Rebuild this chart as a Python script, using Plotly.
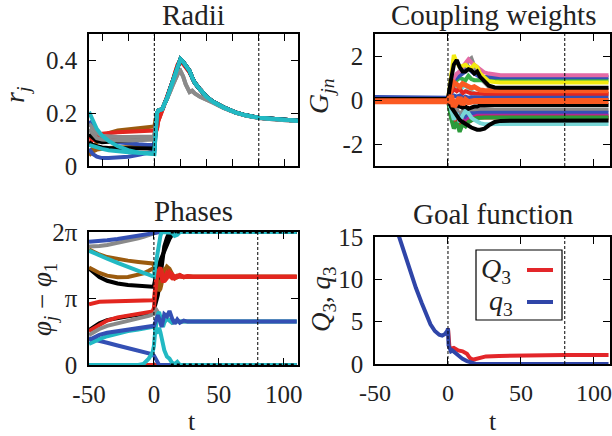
import plotly.graph_objects as go

W, H = 612, 436
FONT = "Liberation Serif"
TWO_PI = 6.2832
PI = 3.1416

# ---------------- Radii ----------------
r_t_pre = [-50, -47, -44, -40, -35, -28, -20, -12, -5, 0]
r_t_post = [2, 3, 6, 8, 10, 12, 14, 16, 18, 20, 22, 24, 27, 29, 31, 35, 40, 45, 53, 62, 70, 80, 95, 110]
r_post_main = [0.2, 0.21, 0.215, 0.235, 0.26, 0.29, 0.32, 0.355, 0.385, 0.405, 0.395, 0.38, 0.36, 0.335, 0.315, 0.29, 0.262, 0.243, 0.222, 0.203, 0.192, 0.183, 0.176, 0.171]
r_post_gray = [0.2, 0.21, 0.215, 0.235, 0.255, 0.28, 0.305, 0.33, 0.35, 0.36, 0.34, 0.31, 0.28, 0.285, 0.275, 0.262, 0.252, 0.24, 0.22, 0.202, 0.191, 0.182, 0.175, 0.17]
r_post_red = [0.14, 0.17, 0.21, 0.235, 0.26, 0.29, 0.32, 0.355, 0.385, 0.4, 0.39, 0.375, 0.355, 0.335, 0.315, 0.29, 0.262, 0.243, 0.222, 0.203, 0.192, 0.183, 0.176, 0.171]

r_brown_a = [0.045, 0.065, 0.09, 0.11, 0.125, 0.135, 0.14, 0.145, 0.148, 0.15]
r_brown_b = [0.04, 0.055, 0.062, 0.066, 0.068, 0.07, 0.072, 0.073, 0.074, 0.075]
r_red_a = [0.085, 0.1, 0.115, 0.122, 0.125, 0.128, 0.13, 0.132, 0.133, 0.134]
r_red_b = [0.11, 0.1, 0.095, 0.095, 0.1, 0.105, 0.108, 0.11, 0.11, 0.11]
r_blue_a = [0.17, 0.15, 0.13, 0.115, 0.1, 0.09, 0.085, 0.082, 0.08, 0.08]
r_blue_b = [0.065, 0.045, 0.035, 0.03, 0.03, 0.032, 0.035, 0.042, 0.05, 0.055]
r_black_a = [0.12, 0.105, 0.095, 0.09, 0.092, 0.095, 0.098, 0.1, 0.102, 0.105]
r_black_b = [0.09, 0.08, 0.075, 0.07, 0.068, 0.067, 0.066, 0.066, 0.066, 0.066]
r_gray_a = [0.16, 0.14, 0.125, 0.115, 0.112, 0.11, 0.11, 0.11, 0.11, 0.112]
r_gray_b = [0.14, 0.12, 0.105, 0.1, 0.098, 0.097, 0.097, 0.098, 0.1, 0.1]
r_cyan_a = [0.205, 0.17, 0.14, 0.115, 0.095, 0.075, 0.06, 0.05, 0.045, 0.045]
r_cyan_b = [0.08, 0.075, 0.07, 0.065, 0.06, 0.055, 0.052, 0.05, 0.048, 0.047]

# ---------------- Coupling weights ----------------
g_t = [-50, 0, 2, 4, 6, 8, 10, 12, 14, 16, 18, 20, 22, 25, 28, 32, 36, 110]
g_pink = [0, 0, 0.6, 1.0, 1.2, 1.3, 1.5, 1.7, 1.85, 1.7, 1.6, 1.5, 1.35, 1.25, 1.2, 1.15, 1.13, 1.13]
g_blue_a = [0, 0, 0.5, 0.9, 1.0, 1.1, 1.2, 1.3, 1.5, 1.3, 1.2, 1.1, 1.05, 1.05, 1.03, 1.03, 1.03, 1.03]
g_green_a = [0, 0, 0.3, 0.7, 0.9, 1.0, 0.95, 0.9, 1.1, 0.95, 0.9, 0.92, 0.9, 0.9, 0.9, 0.9, 0.9, 0.9]
g_yellow = [0, 0, 1.0, 2.05, 1.7, 1.5, 1.55, 1.6, 1.5, 1.45, 1.6, 1.5, 1.2, 1.0, 0.85, 0.82, 0.8, 0.8]
g_gray_a = [0, 0, 0.4, 0.8, 1.1, 1.3, 1.4, 1.6, 1.8, 1.9, 1.5, 1.2, 1.0, 0.8, 0.6, 0.45, 0.35, 0.3]
g_black_a = [0.05, 0.05, 0.9, 1.6, 1.82, 1.5, 1.3, 1.3, 1.4, 1.35, 1.2, 1.3, 1.05, 0.85, 0.65, 0.57, 0.56, 0.56]
g_orange_a = [0, 0, 0.5, 0.8, 0.7, 0.6, 0.75, 0.7, 0.6, 0.55, 0.6, 0.5, 0.45, 0.43, 0.42, 0.42, 0.42, 0.42]
g_red_a = [0, 0, 0.3, 0.5, 0.4, 0.5, 0.3, 0.4, 0.35, 0.3, 0.3, 0.28, 0.27, 0.27, 0.27, 0.27, 0.27, 0.27]
g_cyan_a = [0, 0, 0.7, 0.5, 0.75, 0.4, 0.6, 0.7, 0.5, 0.4, 0.3, 0.2, 0.1, 0.05, 0.0, 0.0, 0.0, 0.0]
g_blue_b = [0.14, 0.14, 0.1, 0.2, 0.15, 0.2, 0.1, 0.15, 0.1, 0.12, 0.1, 0.1, 0.1, 0.1, 0.1, 0.1, 0.1, 0.1]
g_black_b = [0.05, 0.05, -0.2, -0.3, -0.25, -0.3, -0.35, -0.3, -0.4, -0.35, -0.3, -0.3, -0.25, -0.25, -0.23, -0.23, -0.23, -0.23]
g_gray_b = [0, 0, -0.3, -0.6, -0.4, -0.7, -0.5, -0.6, -0.5, -0.45, -0.45, -0.43, -0.43, -0.43, -0.43, -0.43, -0.43, -0.43]
g_blue_c = [0, 0, -0.5, -0.8, -0.6, -0.9, -0.7, -0.8, -0.7, -0.6, -0.6, -0.58, -0.58, -0.58, -0.58, -0.58, -0.58, -0.58]
g_purple = [0, 0, -0.6, -1.0, -0.8, -1.1, -0.9, -1.0, -0.85, -0.8, -0.75, -0.72, -0.72, -0.72, -0.72, -0.72, -0.72, -0.72]
g_red_b = [0, 0, -0.7, -1.2, -0.9, -1.25, -1.0, -1.1, -1.0, -0.9, -0.85, -0.8, -0.8, -0.8, -0.8, -0.8, -0.8, -0.8]
g_green_b = [0, 0, -0.8, -1.3, -1.0, -1.45, -1.1, -1.2, -1.0, -0.9, -0.85, -0.82, -0.8, -0.8, -0.8, -0.8, -0.8, -0.8]
g_cyan_b = [0, 0, -0.4, -0.9, -0.6, -1.0, -0.7, -0.5, -0.6, -0.8, -0.9, -1.0, -1.05, -1.1, -1.09, -1.09, -1.09, -1.09]
g_black_c = [0.05, 0.05, -0.3, -0.5, -0.7, -0.9, -1.0, -1.1, -1.15, -1.25, -1.3, -1.35, -1.35, -1.3, -1.15, -1.0, -0.95, -0.93]
g_orange_b = [-0.06, -0.06, 0.2, -0.3, -0.1, 0.1, -0.2, 0.0, -0.1, -0.05, -0.05, -0.05, -0.05, -0.05, -0.05, -0.05, -0.05, -0.05]

# ---------------- Phases ----------------
p_t = [-50, -46, -42, -36, -28, -20, -12, -8, -4, -1,
       0, 1, 2, 3, 4, 5, 6, 7, 8, 10, 12, 14, 16, 18, 20, 23, 26, 30, 40, 110]
ph_red_zero = [0] * 30
ph_blue_low = [1.26, 1.21, 1.15, 1.05, 0.92, 0.8, 0.68, 0.62, 0.55, 0.5,
               0.45, 0.35, 0.2, 0.1, 0, 0, 0, 0, 0, 0, 0, 0, 0, 0, 0, 0, 0, 0, 0, 0]
ph_gray_top = [5.6, 5.6, 5.62, 5.67, 5.76, 5.86, 5.98, 6.05, 6.12, 6.17,
               6.2, 6.24, 6.28, 6.28, 6.28, 6.28, 6.28, 6.28, 6.28, 6.28, 6.28, 6.28, 6.28, 6.28, 6.28, 6.28, 6.28, 6.28, 6.28, 6.28]
ph_blue_top = [5.82, 5.83, 5.85, 5.89, 5.95, 6.03, 6.12, 6.17, 6.22, 6.25,
               6.27, 6.28, 6.28, 6.28, 6.28, 6.28, 6.28, 6.28, 6.28, 6.28, 6.28, 6.28, 6.28, 6.28, 6.28, 6.28, 6.28, 6.28, 6.28, 6.28]
ph_black_low = [1.65, 1.82, 1.97, 2.12, 2.22, 2.3, 2.37, 2.4, 2.43, 2.45,
                2.6, 2.8, 3.0, 3.3, 3.7, 4.2, 4.7, 5.2, 5.6, 6.0, 6.28, 6.28, 6.28, 6.28, 6.28, 6.28, 6.28, 6.28, 6.28, 6.28]
ph_black_top = [4.57, 4.33, 4.15, 3.98, 3.85, 3.78, 3.74, 3.72, 3.71, 3.7,
                3.75, 4.1, 4.4, 4.6, 4.8, 4.95, 5.1, 5.25, 5.4, 5.7, 5.95, 6.15, 6.28, 6.28, 6.28, 6.28, 6.28, 6.28, 6.28, 6.28]
ph_brown_low = [4.6, 4.45, 4.35, 4.22, 4.15, 4.16, 4.25, 4.33, 4.45, 4.55,
                4.5, 4.2, 3.9, 3.65, 3.5, 3.6, 3.85, 4.15, 4.4, 4.65, 4.55, 4.3, 4.1, 4.15, 4.25, 4.15, 4.18, 4.17, 4.17, 4.17]
ph_brown_top = [5.45, 5.33, 5.22, 5.1, 5.0, 4.93, 4.87, 4.85, 4.82, 4.8,
                4.7, 4.4, 4.1, 3.85, 3.7, 3.75, 3.95, 4.25, 4.5, 4.6, 4.35, 4.15, 4.1, 4.22, 4.2, 4.15, 4.17, 4.17, 4.17, 4.17]
ph_red_low = [1.6, 1.73, 1.9, 2.1, 2.25, 2.34, 2.42, 2.46, 2.5, 2.53,
              2.7, 3.5, 4.0, 4.3, 4.5, 4.3, 4.0, 3.9, 4.1, 4.35, 4.2, 4.1, 4.2, 4.15, 4.18, 4.17, 4.17, 4.17, 4.17, 4.17]
ph_red_up = [2.87, 2.95, 2.99, 3.0, 3.01, 3.02, 3.03, 3.04, 3.05, 3.06,
             3.1, 3.8, 4.2, 4.4, 4.55, 4.6, 4.4, 4.1, 3.95, 4.1, 4.4, 4.3, 4.1, 4.2, 4.25, 4.15, 4.2, 4.17, 4.17, 4.17]
ph_gray_low = [1.42, 1.56, 1.7, 1.85, 1.98, 2.08, 2.2, 2.26, 2.32, 2.37,
               2.4, 2.5, 2.6, 2.5, 2.3, 2.1, 2.0, 2.1, 2.25, 2.2, 2.1, 2.0, 2.08, 2.05, 2.05, 2.05, 2.05, 2.05, 2.05, 2.05]
ph_cyan_rise = [0, 0, 0, 0, 0, 0, 0, 0.05, 0.3, 0.6,
                0.9, 1.6, 2.1, 2.4, 2.5, 2.2, 1.9, 1.8, 2.0, 2.2, 2.1, 2.0, 2.05, 2.05, 2.05, 2.05, 2.05, 2.05, 2.05, 2.05]
ph_cyan_low = [1.0, 1.12, 1.22, 1.36, 1.5, 1.6, 1.68, 1.72, 1.76, 1.8,
               1.85, 1.7, 1.5, 1.6, 1.75, 1.55, 1.3, 1.0, 0.7, 0.4, 0.3, 0.1, 0.05, 0.15, 0, 0, 0, 0, 0, 0]
ph_blue_mid = [1.18, 1.32, 1.42, 1.52, 1.6, 1.66, 1.72, 1.76, 1.8, 1.83,
               1.85, 2.0, 2.2, 2.35, 2.2, 1.9, 1.8, 2.1, 2.4, 2.3, 2.55, 2.2, 1.95, 2.15, 2.0, 2.1, 2.05, 2.05, 2.05, 2.05]
ph_cyan_top = [5.4, 5.28, 5.18, 5.02, 4.83, 4.62, 4.45, 4.35, 4.27, 4.2,
               4.17, 4.6, 5.0, 5.4, 5.8, 6.1, 6.28, 6.28, 6.28, 6.28, 6.28, 6.25, 6.1, 6.15, 6.28, 6.28, 6.28, 6.28, 6.28, 6.28]
ph_dots_t = [13, 110]
ph_dots_top = [6.28, 6.28]
ph_dots_bottom = [0, 0]

# ---------------- Goal function ----------------
q_t = [-34, -30, -26, -22, -18, -15, -12, -9, -6, -4, -2, -0.5, 0, 0.4, 1, 2, 3, 5, 7, 10, 13, 15, 17, 19, 25, 50, 80, 110]
q_vals = [15.3, 13.2, 11.0, 9.0, 7.2, 5.9, 4.7, 3.9, 3.45, 3.35, 3.55, 3.9, 4.2, 2.2, 1.8, 1.5, 1.6, 1.3, 1.0, 0.6, 0.35, 0.2, 0.05, 0.0, 0.0, 0.0, 0.0, 0.0]
Q_t = [0, 0.4, 1, 2, 4, 7, 10, 13, 15, 17, 19, 22, 26, 35, 50, 80, 110]
Q_vals = [4.2, 2.4, 2.0, 1.8, 1.9, 1.6, 1.5, 1.2, 0.7, 0.5, 0.6, 0.8, 0.9, 0.95, 1.0, 1.05, 1.05]

markers_t = [0, 80]

BROWN = "#9b5b0f"
RED = "#e3261f"
GRAY = "#8a8a8a"
BLACK = "#000000"
BLUE = "#3450b4"
CYAN = "#22b9c3"

fig = go.Figure()


def line(x, y, color, width, ax, dash=None):
    fig.add_trace(go.Scatter(x=x, y=y, mode="lines", xaxis="x" + ax, yaxis="y" + ax,
                             line=dict(color=color, width=width, dash=dash),
                             showlegend=False, hoverinfo="skip"))


radii_curves = [
    (r_brown_a, r_post_main, BROWN), (r_brown_b, r_post_main, BROWN),
    (r_red_a, r_post_red, RED), (r_red_b, r_post_red, RED),
    (r_blue_a, r_post_main, BLUE), (r_blue_b, r_post_main, BLUE),
    (r_black_a, r_post_main, BLACK), (r_black_b, r_post_main, BLACK),
    (r_gray_a, r_post_gray, GRAY), (r_gray_b, r_post_gray, GRAY),
    (r_cyan_a, r_post_main, CYAN), (r_cyan_b, r_post_main, CYAN),
]
for pre, post, c in radii_curves:
    line(r_t_pre + r_t_post, pre + post, c, 4, "")

coupling = [
    (g_cyan_a, "#6fd3d3", 4), (g_gray_a, GRAY, 4), (g_green_a, "#37b04a", 4),
    (g_blue_a, BLUE, 4), (g_pink, "#e46aa6", 4), (g_yellow, "#f2ea10", 4),
    (g_red_a, RED, 4), (g_orange_a, "#fb5a22", 5), (g_blue_b, BLUE, 4),
    (g_gray_b, GRAY, 4), (g_blue_c, BLUE, 4), (g_purple, "#b3249a", 4),
    (g_red_b, RED, 4), (g_green_b, "#2c9a3a", 4), (g_cyan_b, "#78d6d6", 4),
    (g_black_b, BLACK, 4), (g_black_c, BLACK, 4), (g_black_a, BLACK, 4),
    (g_orange_b, "#fb5a22", 6),
]
for vals, c, w in coupling:
    line(g_t, vals, c, w, "2")

phases = [
    (ph_red_zero, RED), (ph_blue_low, BLUE), (ph_gray_top, GRAY), (ph_blue_top, BLUE),
    (ph_black_low, BLACK), (ph_black_top, BLACK), (ph_brown_low, BROWN), (ph_brown_top, BROWN),
    (ph_red_low, RED), (ph_red_up, RED), (ph_gray_low, GRAY), (ph_cyan_rise, CYAN),
    (ph_cyan_low, CYAN), (ph_blue_mid, BLUE), (ph_cyan_top, CYAN),
]
for vals, c in phases:
    line(p_t, vals, c, 4, "3")
line(ph_dots_t, ph_dots_top, BLACK, 3, "3", dash="dot")
line(ph_dots_t, ph_dots_bottom, BLACK, 3, "3", dash="dot")

line(Q_t, Q_vals, "#e3262a", 4, "4")
line(q_t, q_vals, "#2f45a8", 4, "4")


def px_x(p):
    return p / W


def px_y(p):
    return 1 - p / H


dom = {
    "": ([89, 298], [34, 166]),
    "2": ([375, 610], [34, 166]),
    "3": ([89, 298], [232, 365]),
    "4": ([375, 610], [237, 364]),
}

tick_font = dict(family=FONT, size=25, color="#222222")
common = dict(showline=True, linecolor="black", linewidth=1.5, mirror="ticks",
              ticks="inside", ticklen=7, tickcolor="black", tickwidth=1.2,
              showgrid=False, zeroline=False, tickfont=tick_font, automargin=False)

lay = {}
axis_specs = {
    "": dict(x=dict(range=[-50, 110], tickvals=[-40, -20, 0, 20, 40, 60, 80, 100], showticklabels=False),
             y=dict(range=[0, 0.5], tickvals=[0, 0.2, 0.4], ticktext=["0", "0.2", "0.4"])),
    "2": dict(x=dict(range=[-50, 111], tickvals=[-50, 0, 50, 100], showticklabels=False),
              y=dict(range=[-3, 3], tickvals=[-2, 0, 2], ticktext=["-2", "0", "2"])),
    "3": dict(x=dict(range=[-50, 111], tickvals=[-50, 0, 50, 100], ticktext=["-50", "0", "50", "100"]),
              y=dict(range=[0, TWO_PI], tickvals=[0, PI, TWO_PI], ticktext=["0", "π", "2π"])),
    "4": dict(x=dict(range=[-50, 111], tickvals=[-50, 0, 50, 100], ticktext=["-50", "0", "50", "100"],
                     tickfont=dict(family=FONT, size=24, color="#222222")),
              y=dict(range=[0, 15], tickvals=[0, 5, 10, 15], ticktext=["0", "5", "10", "15"])),
}
for k, (dx, dy) in dom.items():
    xa = dict(common, domain=[px_x(dx[0]), px_x(dx[1])], anchor="y" + k, ticklabelstandoff=6)
    xa.update(axis_specs[k]["x"])
    ya = dict(common, domain=[px_y(dy[1]), px_y(dy[0])], anchor="x" + k, ticklabelstandoff=5)
    ya.update(axis_specs[k]["y"])
    lay["xaxis" + k] = xa
    lay["yaxis" + k] = ya

shapes = []
for k in ["", "2", "3", "4"]:
    for t0 in markers_t:
        shapes.append(dict(type="line", xref="x" + k, yref=("y" + k + " domain"),
                           x0=t0, x1=t0, y0=0, y1=1, layer="above",
                           line=dict(color="black", width=1, dash="3px,2px")))

shapes.append(dict(type="rect", xref="paper", yref="paper",
                   x0=px_x(476), x1=px_x(562), y0=px_y(320), y1=px_y(250),
                   line=dict(color="black", width=1.2), fillcolor="white", layer="above"))
shapes.append(dict(type="line", xref="paper", yref="paper", x0=px_x(527), x1=px_x(553),
                   y0=px_y(270), y1=px_y(270), line=dict(color="#e3262a", width=4), layer="above"))
shapes.append(dict(type="line", xref="paper", yref="paper", x0=px_x(527), x1=px_x(553),
                   y0=px_y(302), y1=px_y(302), line=dict(color="#2f45a8", width=4), layer="above"))


def ann(text, x, y, size=26, angle=0):
    return dict(text=text, x=px_x(x), y=px_y(y), xref="paper", yref="paper",
                showarrow=False, textangle=angle, xanchor="center", yanchor="middle",
                font=dict(family=FONT, size=size, color="#222222"))


annotations = [
    ann("Radii", 193, 15, 29),
    ann("Coupling weights", 493, 15, 29),
    ann("Phases", 193, 211, 29),
    ann("Goal function", 493, 214, 29),
    ann("t", 192, 421, 26),
    ann("t", 493, 421, 26),
    ann("<i>r<sub>j</sub></i>", 17, 95, 28, -90),
    ann("<i>G<sub>jn</sub></i>", 321, 97, 28, -90),
    ann("<i>φ<sub>j</sub></i> − <i>φ</i><sub>1</sub>", 44, 300, 27, -90),
    ann("<i>Q</i><sub>3</sub>, <i>q</i><sub>3</sub>", 323, 300, 27, -90),
    ann("<i>Q</i><sub>3</sub>", 496, 270, 28),
    ann("<i>q</i><sub>3</sub>", 501, 302, 28),
]

fig.update_layout(width=W, height=H, margin=dict(l=0, r=0, t=0, b=0, autoexpand=False),
                  paper_bgcolor="white", plot_bgcolor="white",
                  font=dict(family=FONT),
                  shapes=shapes, annotations=annotations, **lay)

fig.write_html("out.html", config={"displayModeBar": False},
               post_script="document.body.style.margin='0';document.body.style.padding='0';")
